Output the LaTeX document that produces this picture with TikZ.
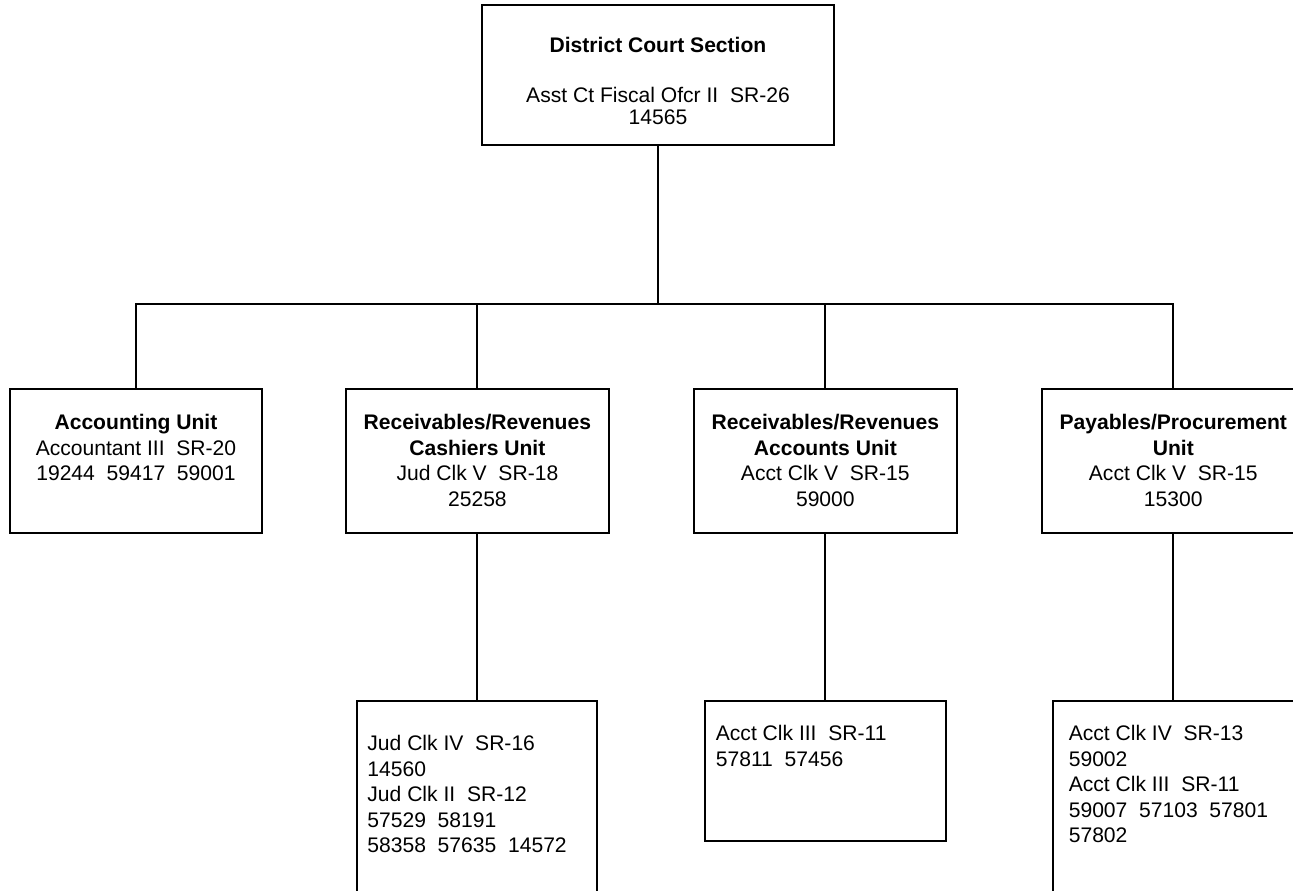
\documentclass[tikz,border=0pt]{standalone}
\usepackage{fontspec}
\setmainfont{Liberation Sans}
\usetikzlibrary{positioning}

% width, height, top gap, text
\newcommand{\unittext}[4]{\parbox[c][#2][t]{#1}{\centering\vspace*{#3}#4}}
% width, height, top gap, left gap, text
\newcommand{\stafftext}[5]{\parbox[c][#2][t]{#1}{\raggedright\leftskip=#4\relax\vspace*{#3}#5}}

\begin{document}
\begin{tikzpicture}[
    x=0.02cm, y=-0.02cm,
    node distance=3.36cm,
    box/.style={rectangle,draw,line width=1.1pt,inner sep=0pt,outer sep=0pt,
      font=\fontsize{12}{14.5}\selectfont},
    link/.style={line width=1.1pt}
  ]
    \useasboundingbox (0,0) rectangle (1293,890);
    \clip (0,0) rectangle (1293,890);

    \node[box,anchor=north] (section) at (658,5)
      {\unittext{7.04cm}{2.8cm}{18.5pt}{\textbf{District Court Section}\\[14pt]
        Asst Ct Fiscal Ofcr II~~SR-26\\[-2pt] 14565}};

    \node[box,anchor=north west] (accounting) at (10,389)
      {\unittext{5.04cm}{2.88cm}{14.5pt}{\textbf{Accounting Unit}\\
        Accountant III~~SR-20\\ 19244~~59417~~59001}};
    \node[box,right=1.68cm of accounting] (cashiers)
      {\unittext{5.26cm}{2.88cm}{14.5pt}{\textbf{Receivables/Revenues}\\
        \textbf{Cashiers Unit}\\ Jud Clk V~~SR-18\\ 25258}};
    \node[box,right=1.7cm of cashiers] (accounts)
      {\unittext{5.26cm}{2.88cm}{14.5pt}{\textbf{Receivables/Revenues}\\
        \textbf{Accounts Unit}\\ Acct Clk V~~SR-15\\ 59000}};
    \node[box,right=1.7cm of accounts] (payables)
      {\unittext{5.26cm}{2.88cm}{14.5pt}{\textbf{Payables/Procurement}\\
        \textbf{Unit}\\ Acct Clk V~~SR-15\\ 15300}};

    \node[box,below=of cashiers] (cashstaff)
      {\stafftext{4.8cm}{4cm}{19.6pt}{0.2cm}{Jud Clk IV~~SR-16\\ 14560\\
        Jud Clk II~~SR-12\\ 57529~~58191\\ 58358~~57635~~14572}};
    \node[box,below=of accounts] (acctstaff)
      {\stafftext{4.82cm}{2.8cm}{13.9pt}{0.22cm}{Acct Clk III~~SR-11\\
        57811~~57456}};
    \node[box,below=of payables] (paystaff)
      {\stafftext{4.82cm}{4cm}{13.9pt}{0.32cm}{Acct Clk IV~~SR-13\\ 59002\\
        Acct Clk III~~SR-11\\ 59007~~57103~~57801\\ 57802}};

    \coordinate (bus) at (658,304);
    \draw[link] (section) -- (bus);
    \draw[link] (accounting) |- (bus) -| (payables);
    \draw[link] (cashiers) -- (cashiers |- bus);
    \draw[link] (accounts) -- (accounts |- bus);

    \draw[link] (cashiers) -- (cashstaff);
    \draw[link] (accounts) -- (acctstaff);
    \draw[link] (payables) -- (paystaff);
  \end{tikzpicture}
\end{document}
